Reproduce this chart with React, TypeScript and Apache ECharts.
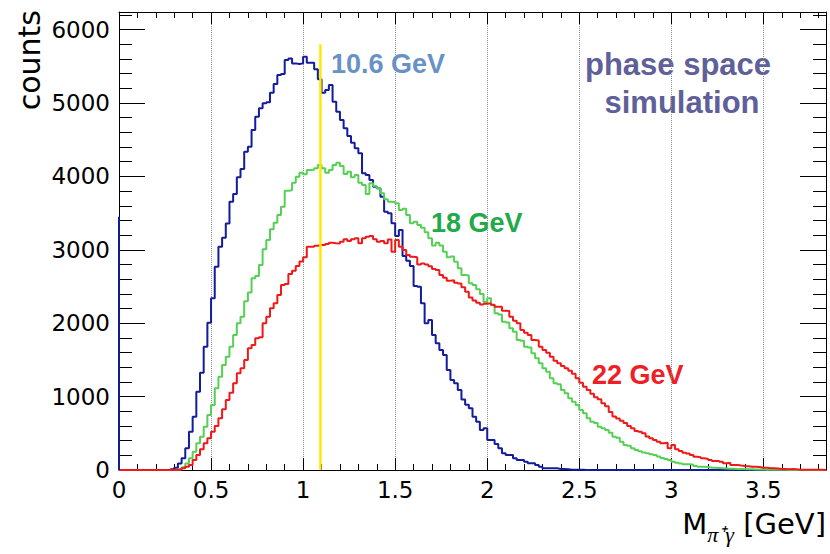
import React, { useEffect, useRef } from "react";
import * as echarts from "echarts";

// ---------------- data ----------------
const BIN_WIDTH = 0.02; // GeV
const N_BINS = 192;
const X_MAX = 3.84;
const Y_MAX = 6240;
const X_MAJOR = 0.5;
const X_MINOR = 0.1;
const Y_MAJOR = 1000;
const Y_MINOR = 200;

// bin contents (counts) per 0.02 GeV bin, starting at 0
const counts10_6GeV: number[] = [
  0, 0, 0, 0, 0, 0, 0, 0, 0, 0, 0, 0, 0, 0,
  10, 30, 90, 160, 295, 520, 725, 1065, 1325, 1680, 2005, 2340, 2770, 3042, 3165, 3360,
  3655, 3760, 3988, 4100, 4337, 4405, 4632, 4813, 4927, 4996, 5010, 5140, 5259, 5381, 5395, 5586,
  5608, 5540, 5531, 5540, 5631, 5550, 5550, 5460, 5323, 5140, 5177, 5245, 5018, 4881, 4768, 4655,
  4550, 4460, 4382, 4314, 4042, 4019, 3951, 3860, 3838, 3724, 3519, 3497, 3361, 3188, 3270, 2915,
  2850, 2780, 2507, 2497, 2271, 1998, 2044, 1839, 1726, 1635, 1567, 1362, 1226, 1181, 1090, 960,
  890, 840, 726, 658, 545, 568, 409, 409, 354, 296, 228, 204, 204, 159, 136, 136,
  113, 91, 91, 68, 45, 23, 23, 23, 23, 15, 15, 10, 5, 5, 5, 3,
];

const counts18GeV: number[] = [
  0, 0, 0, 0, 0, 0, 0, 0, 0, 0, 0, 0, 0, 0, 0,
  5, 10, 37, 90, 160, 250, 364, 454, 590, 749, 886, 1113, 1271, 1431, 1544, 1680,
  1839, 1999, 2089, 2300, 2420, 2612, 2643, 2793, 3007, 3134, 3279, 3369, 3474, 3587, 3805, 3810,
  3914, 3996, 4051, 4030, 4087, 4090, 4110, 4155, 4110, 4051, 4087, 4155, 4187, 4142, 4033, 4064,
  3987, 4019, 3914, 3883, 3760, 3906, 3870, 3838, 3770, 3690, 3655, 3650, 3633, 3542, 3560, 3474,
  3361, 3383, 3338, 3300, 3240, 3157, 3060, 3097, 3060, 2974, 2898, 2910, 2838, 2748, 2657, 2650,
  2544, 2520, 2462, 2398, 2290, 2339, 2248, 2134, 2120, 2021, 2010, 1930, 1884, 1771, 1760, 1680,
  1670, 1590, 1522, 1453, 1385, 1340, 1249, 1181, 1170, 1090, 1045, 977, 931, 886, 817, 772,
  704, 658, 640, 590, 570, 545, 508, 454, 440, 386, 341, 330, 296, 272, 255, 240,
  228, 215, 204, 185, 165, 150, 135, 113, 100, 90, 77, 77, 70, 55, 45, 45,
  40, 31, 31, 28, 25, 22, 18, 18, 15, 14, 12, 10, 9, 8, 7, 6,
  5, 4, 3, 3, 2, 2, 1, 1, 1, 0, 0, 0, 0, 0, 0, 0,
];

const counts22GeV: number[] = [
  0, 0, 0, 0, 0, 0, 0, 0, 0, 0, 0, 0, 0, 0, 0,
  3, 10, 25, 45, 68, 136, 204, 282, 364, 432, 522, 600, 704, 827, 954, 1053,
  1181, 1317, 1385, 1499, 1658, 1703, 1794, 1808, 1999, 2089, 2203, 2271, 2384, 2520, 2534, 2670,
  2716, 2779, 2840, 2900, 3042, 3040, 3056, 3065, 3065, 3079, 3097, 3090, 3085, 3110, 3143, 3120,
  3143, 3157, 3088, 3157, 3178, 3188, 3143, 3110, 3120, 3088, 3140, 2974, 3134, 3042, 2997, 2930,
  2906, 2900, 2800, 2815, 2800, 2775, 2740, 2725, 2657, 2620, 2580, 2585, 2550, 2540, 2490, 2430,
  2350, 2310, 2280, 2255, 2265, 2271, 2250, 2225, 2225, 2170, 2165, 2089, 2034, 1999, 1907, 1871,
  1839, 1771, 1765, 1680, 1635, 1598, 1544, 1489, 1453, 1417, 1385, 1353, 1310, 1250, 1190, 1135,
  1090, 1040, 990, 963, 909, 870, 790, 730, 700, 670, 640, 600, 570, 530, 520, 500,
  455, 432, 410, 386, 364, 370, 296, 341, 282, 260, 236, 225, 204, 181, 175, 159,
  150, 136, 123, 123, 113, 91, 100, 68, 68, 60, 54, 50, 45, 45, 40, 31,
  31, 25, 23, 20, 14, 12, 9, 12, 9, 5, 5, 4, 3, 3, 2, 2, 1,
];

// vertical yellow marker line (GeV, counts)
const markerLine: number[][] = [
  [1.094, 0],
  [1.094, 5800],
];
// blue edge drawn on the left frame by the histogram
const blueEdge: number[][] = [
  [0, 0],
  [0, 3450],
];

const labels = {
  e106: "10.6 GeV",
  e18: "18 GeV",
  e22: "22 GeV",
  note1: "phase space",
  note2: "simulation",
  yTitle: "counts",
};

// -------------- helpers ---------------
function toSteps(vals: number[]): number[][] {
  const pts: number[][] = [];
  for (let i = 0; i < N_BINS; i++) {
    pts.push([+(i * BIN_WIDTH).toFixed(2), vals[i] ?? 0]);
  }
  pts.push([X_MAX, vals[N_BINS - 1] ?? 0]);
  return pts;
}

const BLUE = "#121c9c";
const GREEN = "#55d055";
const RED = "#f01818";
const TICK_FONT = "DejaVu Sans";

function xAxisDef(position: "top" | "bottom", minor: boolean) {
  const main = position === "bottom" && !minor;
  return {
    type: "value",
    position,
    min: 0,
    max: X_MAX,
    interval: minor ? X_MINOR : X_MAJOR,
    axisLine: { show: !minor, onZero: false, lineStyle: { color: "#000", width: 1 } },
    axisTick: { show: true, inside: true, length: minor ? 6 : 12, lineStyle: { color: "#000", width: 1 } },
    axisLabel: {
      show: main,
      showMaxLabel: false,
      margin: 8,
      color: "#000",
      fontFamily: TICK_FONT,
      fontSize: 23,
      formatter: (v: number) => String(v),
    },
    splitLine: { show: main, lineStyle: { type: "dotted", color: "#8a8a8a", width: 1 } },
  };
}

function yAxisDef(position: "left" | "right", minor: boolean) {
  const main = position === "left" && !minor;
  return {
    type: "value",
    position,
    min: 0,
    max: Y_MAX,
    interval: minor ? Y_MINOR : Y_MAJOR,
    axisLine: { show: !minor, onZero: false, lineStyle: { color: "#000", width: 1 } },
    axisTick: { show: true, inside: true, length: minor ? 13 : 26, lineStyle: { color: "#000", width: 1 } },
    axisLabel: {
      show: main,
      showMaxLabel: false,
      margin: 9,
      color: "#000",
      fontFamily: TICK_FONT,
      fontSize: 23,
      formatter: (v: number) => String(v),
    },
    splitLine: { show: false },
  };
}

function histSeries(name: string, vals: number[], color: string) {
  return {
    name,
    type: "line",
    step: "end",
    data: toSteps(vals),
    xAxisIndex: 0,
    yAxisIndex: 0,
    showSymbol: false,
    symbol: "none",
    silent: true,
    lineStyle: { color, width: 2 },
    itemStyle: { color },
  };
}

function annot(text: string, x: number, y: number, color: string, size: number, align = "left") {
  return {
    type: "text",
    x,
    y,
    silent: true,
    style: {
      text,
      fill: color,
      fontFamily: "Liberation Sans",
      fontWeight: "bold",
      fontSize: size,
      align,
      textAlign: align,
      verticalAlign: "middle",
      textVerticalAlign: "middle",
    },
  };
}

export default function App() {
  const ref = useRef<HTMLDivElement>(null);

  useEffect(() => {
    if (!ref.current) return;
    const chart = echarts.init(ref.current, undefined, { renderer: "svg" });
    const option = {
      animation: false,
      backgroundColor: "#ffffff",
      grid: { left: 119, right: 4, top: 12, bottom: 84, containLabel: false },
      xAxis: [
        xAxisDef("bottom", false),
        xAxisDef("bottom", true),
        xAxisDef("top", false),
        xAxisDef("top", true),
      ],
      yAxis: [
        yAxisDef("left", false),
        yAxisDef("left", true),
        yAxisDef("right", false),
        yAxisDef("right", true),
      ],
      series: [
        histSeries(labels.e106, counts10_6GeV, BLUE),
        histSeries(labels.e18, counts18GeV, GREEN),
        histSeries(labels.e22, counts22GeV, RED),
        {
          name: "edge",
          type: "line",
          data: blueEdge,
          showSymbol: false,
          symbol: "none",
          silent: true,
          lineStyle: { color: BLUE, width: 2 },
        },
        {
          name: "marker",
          type: "line",
          data: markerLine,
          showSymbol: false,
          symbol: "none",
          silent: true,
          lineStyle: { color: "#ffe800", width: 2.5 },
        },
      ],
      graphic: [
        annot(labels.e106, 331, 64, "#6792c6", 27),
        annot(labels.e18, 431, 223, "#22a94a", 27),
        annot(labels.e22, 592, 375, "#ee2026", 27),
        annot(labels.note1, 678, 64, "#5f5f9a", 31, "center"),
        annot(labels.note2, 682, 102, "#5f5f9a", 31, "center"),
        {
          type: "text",
          x: 29,
          y: 10,
          rotation: Math.PI / 2,
          silent: true,
          style: {
            text: labels.yTitle,
            fill: "#000",
            fontFamily: TICK_FONT,
            fontSize: 30,
            align: "right",
            textAlign: "right",
            verticalAlign: "middle",
            textVerticalAlign: "middle",
          },
        },
        {
          type: "text",
          x: 826,
          y: 524,
          silent: true,
          style: {
            text: "{m|M}{s|π⁺γ}{m| [GeV]}",
            align: "right",
            textAlign: "right",
            verticalAlign: "middle",
            textVerticalAlign: "middle",
            rich: {
              m: { fontFamily: TICK_FONT, fontSize: 29, fill: "#000", color: "#000", lineHeight: 42, verticalAlign: "middle" },
              s: { fontFamily: "Liberation Serif", fontStyle: "italic", fontSize: 22, fill: "#000", color: "#000", lineHeight: 22, verticalAlign: "bottom" },
            },
          },
        },
      ],
    };
    chart.setOption(option as any);
    return () => chart.dispose();
  }, []);

  return (
    <div
      ref={ref}
      style={{ position: "fixed", left: 0, top: 0, width: 830, height: 554, background: "#fff" }}
    />
  );
}
